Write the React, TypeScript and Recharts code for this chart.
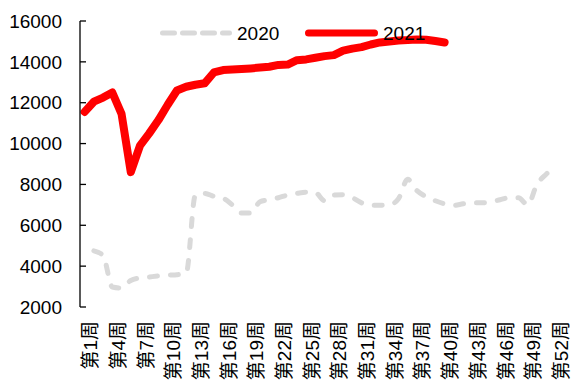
import React from 'react';
import { LineChart, Line, XAxis, YAxis, Legend } from 'recharts';

const weekLabels: string[] = [
  '第1周', '第2周', '第3周', '第4周', '第5周', '第6周', '第7周', '第8周', '第9周', '第10周',
  '第11周', '第12周', '第13周', '第14周', '第15周', '第16周', '第17周', '第18周', '第19周', '第20周',
  '第21周', '第22周', '第23周', '第24周', '第25周', '第26周', '第27周', '第28周', '第29周', '第30周',
  '第31周', '第32周', '第33周', '第34周', '第35周', '第36周', '第37周', '第38周', '第39周', '第40周',
  '第41周', '第42周', '第43周', '第44周', '第45周', '第46周', '第47周', '第48周', '第49周', '第50周',
  '第51周', '第52周',
];

const series2020: (number | null)[] = [
  null, 4750, 4520, 2980, 2930, 3300, 3420, 3470, 3520, 3560,
  3580, 3650, 7480, 7560, 7420, 7330, 7000, 6600, 6600, 7150,
  7250, 7350, 7480, 7560, 7620, 7600, 7200, 7480, 7500, 7350,
  7100, 6980, 6980, 7000, 7300, 8250, 7700, 7400, 7200, 7050,
  6980, 7050, 7100, 7100, 7150, 7250, 7350, 7350, 7000, 8000,
  8500, 8850,
];

const series2021: number[] = [
  11550, 12050, 12250, 12500, 11450, 8600, 9900, 10500, 11150, 11900,
  12600, 12780, 12880, 12950, 13480, 13600, 13620, 13650, 13680, 13720,
  13760, 13850, 13870, 14080, 14120, 14200, 14280, 14330, 14550, 14650,
  14720, 14850, 14950, 15000, 15050, 15070, 15100, 15080, 15020, 14950,
];

const yTicks = [2000, 4000, 6000, 8000, 10000, 12000, 14000, 16000];
const labelWeeks = [1, 4, 7, 10, 13, 16, 19, 22, 25, 28, 31, 34, 37, 40, 43, 46, 49, 52];

const data = weekLabels.map((label, i) => ({
  week: i + 1,
  label,
  y2020: series2020[i] ?? null,
  y2021: i < series2021.length ? series2021[i] : null,
}));

const boundaryTicks = [0.5, ...data.map((d) => d.week + 0.5)];

const FONT = "'Liberation Sans', Arial, 'Noto Sans CJK SC', sans-serif";

const LabelTick = (props: any) => {
  const { x, y, payload } = props;
  const label = weekLabels[payload.value - 1];
  return (
    <text
      transform={`translate(${x + 6},${y}) rotate(-90)`}
      textAnchor="end"
      dominantBaseline="central"
      fontSize={19}
      fontFamily={FONT}
      fill="#000"
    >
      {label}
    </text>
  );
};

const LegendContent = () => (
  <svg width={573} height={50} style={{ display: 'block' }}>
    <line x1={162.5} y1={33} x2={229.5} y2={33} stroke="#d9d9d9" strokeWidth={5}
      strokeDasharray="12 8" strokeLinecap="round" />
    <text x={237} y={39.5} fontSize={19} fontFamily={FONT} fill="#000">2020</text>
    <line x1={308.5} y1={33} x2={374.5} y2={33} stroke="#ff0000" strokeWidth={7}
      strokeLinecap="round" />
    <text x={383} y={39.5} fontSize={19} fontFamily={FONT} fill="#000">2021</text>
  </svg>
);

export default function App() {
  return (
    <div style={{ width: 573, height: 381, background: '#fff' }}>
      <style>{'body{margin:0;background:#fff}'}</style>
      <LineChart
        width={573}
        height={381}
        data={data}
        margin={{ top: 21, right: 13, bottom: 0, left: 0 }}
      >
        <XAxis
          xAxisId="t"
          type="number"
          dataKey="week"
          domain={[0.5, 52.5]}
          ticks={boundaryTicks}
          interval={0}
          tick={false}
          tickSize={-6}
          height={0}
          axisLine={{ stroke: '#000', strokeWidth: 1.3 }}
          tickLine={{ stroke: '#000', strokeWidth: 1.3 }}
        />
        <XAxis
          xAxisId="l"
          type="number"
          dataKey="week"
          domain={[0.5, 52.5]}
          ticks={labelWeeks}
          interval={0}
          axisLine={false}
          tickLine={false}
          tickSize={0}
          tickMargin={14}
          height={74}
          tick={<LabelTick />}
        />
        <YAxis
          type="number"
          domain={[2000, 16000]}
          ticks={yTicks}
          interval={0}
          width={80}
          tickSize={-6}
          tickMargin={24}
          axisLine={{ stroke: '#000', strokeWidth: 1.3 }}
          tickLine={{ stroke: '#000', strokeWidth: 1.3 }}
          tick={{ fontSize: 19, fill: '#000', fontFamily: FONT }}
        />
        <Legend
          layout="horizontal"
          verticalAlign="middle"
          align="center"
          wrapperStyle={{ top: 0, left: 0, width: 573, height: 50 }}
          content={<LegendContent />}
        />
        <Line
          xAxisId="t"
          type="monotone"
          dataKey="y2020"
          stroke="#d9d9d9"
          strokeWidth={5}
          strokeDasharray="8 13"
          strokeLinecap="round"
          dot={false}
          activeDot={false}
          isAnimationActive={false}
        />
        <Line
          xAxisId="t"
          type="linear"
          dataKey="y2021"
          stroke="#ff0000"
          strokeWidth={8}
          strokeLinecap="round"
          strokeLinejoin="round"
          dot={false}
          activeDot={false}
          isAnimationActive={false}
        />
      </LineChart>
    </div>
  );
}
